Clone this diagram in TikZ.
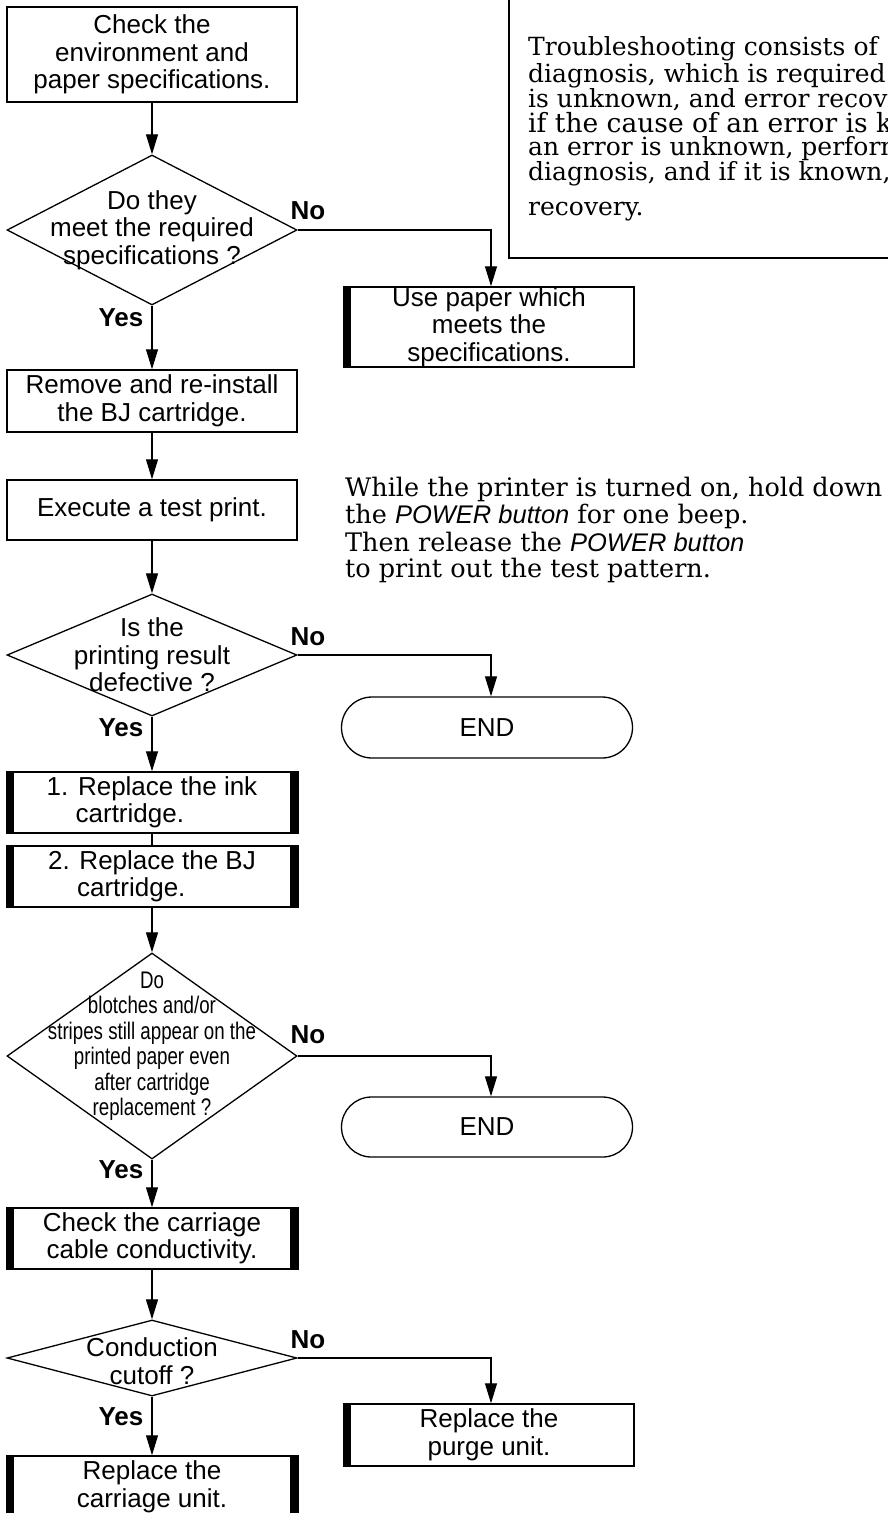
\documentclass[tikz,border=0pt]{standalone}
\usepackage{fontspec}
\setmainfont{Liberation Sans}
\newfontfamily\sanscond[FakeStretch=0.78]{Liberation Sans}
\newfontfamily\serifx{DejaVu Serif}
\usetikzlibrary{shapes.geometric,shapes.misc,arrows.meta}
\tikzset{
  box/.style={draw, line width=1.5pt, rectangle, minimum width=290pt, inner sep=0pt, align=center, font=\fontsize{26}{27.5}\selectfont},
  rbox/.style={box, minimum width=290pt},
  dia/.style={draw, line width=1.3pt, diamond, inner sep=0pt, minimum width=290pt},
  dtext/.style={inner sep=0pt, align=center, font=\fontsize{26}{27.5}\selectfont},
  term/.style={draw, line width=1.3pt, rounded rectangle, minimum width=291pt, inner sep=0pt, font=\fontsize{26}{28}\selectfont},
  arr/.style={line width=1.2pt, -{Triangle[length=20pt,width=12pt]}},
  plain/.style={line width=1.2pt},
  yn/.style={inner sep=0pt, font=\bfseries\fontsize{26}{28}\selectfont},
  sertext/.style={inner sep=0pt, anchor=base west, font=\serifx\fontsize{25.5}{27}\selectfont},
  boxtext/.style={inner sep=0pt, anchor=base west, font=\serifx\fontsize{25}{25}\selectfont},
}
\newcommand\leftbar[1]{\fill ([xshift=-0.75pt]#1.north west) rectangle ([xshift=8pt]#1.south west);}
\newcommand\rightbar[1]{\fill ([xshift=-8pt]#1.north east) rectangle ([xshift=0.75pt]#1.south east);}
\begin{document}
\begin{tikzpicture}[x=1pt, y=-1pt]
\useasboundingbox (0,0) rectangle (888,1513);
\clip (0,0) rectangle (888,1513);
\fill[white] (0,0) rectangle (888,1513);

% top-right note box (cut by the picture edge)
\draw[line width=1.5pt] (509,-10) rectangle (900,258);
\node[boxtext] (n1) at (528,55) {Troubleshooting consists of};
\node[boxtext] (n2) at (528,82) {diagnosis, which is required};
\node[boxtext] (n3) at (528,107) {is unknown, and error recovery,};
\node[boxtext, font=\serifx\fontsize{26.5}{26}\selectfont] (n4) at (528,132) {if the cause of an error is known.};
\node[boxtext] (n5) at (528,155) {an error is unknown, perform};
\node[boxtext] (n6) at (528,180) {diagnosis, and if it is known,};
\node[boxtext] (n7) at (528,215) {recovery.};

% left column
\node[box, minimum height=95pt] (b1) at (152,54.5) {Check the\\environment and\\paper specifications.};
\node[dia, minimum height=150pt] (d1) at (152,230) {};
\node[dtext] (d1t) at (152,230) {Do they\\meet the required\\specifications ?};
\node[box, minimum height=62pt] (b2) at (152,401) {Remove and re-install\\the BJ cartridge.};
\node[box, minimum height=60pt] (b3) at (152,510) {Execute a test print.};
\node[dia, minimum height=122pt] (d2) at (152,655) {};
\node[dtext] (d2t) at (152,655) {Is the\\printing result\\defective ?};
\node[box, minimum height=61pt, align=left] (b4) at (152,802.5) {1. Replace the ink\\\hphantom{1.~}cartridge.};
\node[box, minimum height=61pt, align=left] (b5) at (152,876.5) {2. Replace the BJ\\\hphantom{2.~}cartridge.};
\node[dia, minimum height=206pt] (d3) at (152,1056) {};
\node[dtext, font=\sanscond\fontsize{24}{25.5}\selectfont] (d3t) at (152,1046) {Do\\blotches and/or\\stripes still appear on the\\printed paper even\\after cartridge\\replacement ?};
\node[box, minimum height=61pt] (b6) at (152,1238.5) {Check the carriage\\cable conductivity.};
\node[dia, minimum height=76pt] (d4) at (152,1358) {};
\node[dtext] (d4t) at (152,1361) {Conduction\\cutoff ?};
\node[box, minimum height=62pt] (b7) at (152,1487) {Replace the\\carriage unit.};

% right column
\node[rbox, minimum height=80pt] (r1) at (489,327) {Use paper which\\meets the\\specifications.};
\node[term, minimum height=61pt] (e1) at (487,727.5) {END};
\node[term, minimum height=60pt] (e2) at (487,1127) {END};
\node[rbox, minimum height=62pt] (r2) at (489,1435) {Replace the\\purge unit.};

% thick side bars
\leftbar{b4} \rightbar{b4}
\leftbar{b5} \rightbar{b5}
\leftbar{b6} \rightbar{b6}
\leftbar{b7} \rightbar{b7}
\leftbar{r1}
\leftbar{r2}

% connectors
\draw[arr] (b1) -- (d1);
\draw[arr] (d1) -- (b2);
\draw[arr] (b2) -- (b3);
\draw[arr] (b3) -- (d2);
\draw[arr] (d2) -- (b4);
\draw[plain] (b4) -- (b5);
\draw[arr] (b5) -- (d3);
\draw[arr] (d3) -- (b6);
\draw[arr] (b6) -- (d4);
\draw[arr] (d4) -- (b7);
\coordinate (c1) at (491,0);
\draw[arr] (d1.east) -| (r1.north -| c1);
\draw[arr] (d2.east) -| (e1.north -| c1);
\draw[arr] (d3.east) -| (e2.north -| c1);
\draw[arr] (d4.east) -| (r2.north -| c1);

% Yes / No labels
\node[yn] (y1) at (121,318) {Yes};
\node[yn] (y2) at (121,728) {Yes};
\node[yn] (y3) at (121,1170) {Yes};
\node[yn] (y4) at (121,1417) {Yes};
\node[yn] (no1) at (308,211) {No};
\node[yn] (no2) at (308,637) {No};
\node[yn] (no3) at (308,1035) {No};
\node[yn] (no4) at (308,1340) {No};

% side note for the test print
\node[sertext] (s1) at (345,496) {While the printer is turned on, hold down};
\node[sertext] (s2) at (345,523) {the {\normalfont\itshape POWER button} for one beep.};
\node[sertext] (s3) at (345,551) {Then release the {\normalfont\itshape POWER button}};
\node[sertext] (s4) at (345,577) {to print out the test pattern.};
\end{tikzpicture}
\end{document}
